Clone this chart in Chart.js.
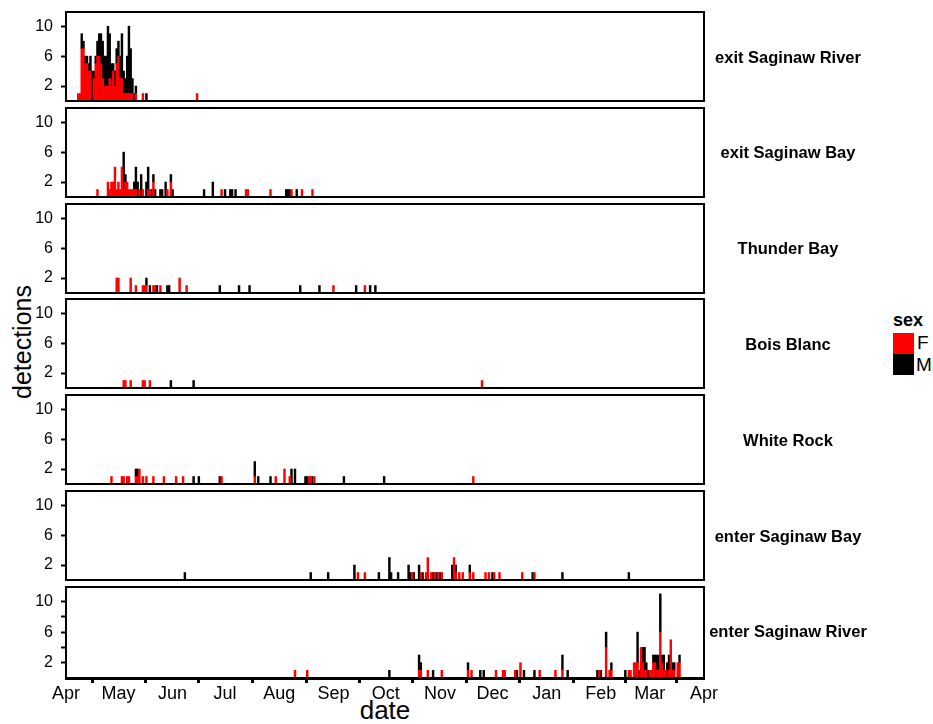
<!DOCTYPE html>
<html>
<head>
<meta charset="utf-8">
<script src="https://cdn.jsdelivr.net/npm/chart.js"></script>
<style>
  body { margin: 0; background: #fff; font-family: "Liberation Sans", Arial, sans-serif; }
  #wrap { position: relative; width: 933px; height: 724px; overflow: hidden; }
  #wrap canvas { position: absolute; left: 0; }
  .strip { position: absolute; left: 688px; width: 200px; text-align: center; font-weight: bold; font-size: 16.5px; line-height: 20px; color: #000; }
  .ytitle { position: absolute; left: 22px; top: 342px; font-size: 25px; transform: translate(-50%, -50%) rotate(-90deg); white-space: nowrap; }
  .xtitle { position: absolute; left: 385px; top: 710px; font-size: 26px; transform: translate(-50%, -50%); }
  .leg { position: absolute; font-size: 19px; }
</style>
</head>
<body>
<div id="wrap">
  <div class="ytitle">detections</div>
  <div class="xtitle">date</div>
  <div class="leg" style="left:893px;top:310px;font-weight:bold;font-size:18px">sex</div>
  <div style="position:absolute;left:893px;top:333px;width:21px;height:21px;background:#ff0000"></div>
  <div style="position:absolute;left:893px;top:354px;width:21px;height:21px;background:#000"></div>
  <div class="leg" style="left:917px;top:332px">F</div>
  <div class="leg" style="left:916px;top:354px">M</div>
</div>
<script>
// day 0 = 1 April
const monthDays = [0, 30, 61, 91, 122, 153, 183, 214, 244, 275, 306, 334, 365];
const monthLabels = ['Apr', 'May', 'Jun', 'Jul', 'Aug', 'Sep', 'Oct', 'Nov', 'Dec', 'Jan', 'Feb', 'Mar', 'Apr'];
const yTicks = [2, 4, 6, 8, 10];
const yLabels = [2, 6, 10];

const panelNames = ['exit Saginaw River', 'exit Saginaw Bay', 'Thunder Bay', 'Bois Blanc',
  'White Rock', 'enter Saginaw Bay', 'enter Saginaw River'];

// [day, detections]
const exitRiverF = [[7,1],[8,1],[9,7],[10,7],[11,5],[12,5],[13,4],[14,4],[16,3],[17,5],[18,6],[19,6],[20,5],
  [21,3],[22,2],[23,2],[24,2],[25,3],[26,2],[27,4],[28,2],[29,5],[30,6],[31,3],[32,3],[33,1],[34,1],[35,1],
  [36,1],[37,1],[38,1],[40,1],[44,1],[75,1]];
const exitRiverM = [[9,2],[10,1],[11,1],[12,1],[13,1],[14,2],[15,4],[16,1],[17,1],[18,2],[19,3],[20,4],[21,5],
  [22,4],[23,4],[24,8],[25,6],[26,3],[27,1],[28,2],[29,2],[30,2],[31,3],[32,6],[33,3],[34,2],[35,5],[36,9],
  [37,6],[38,2],[39,1],[40,1],[46,1]];

const exitBayF = [[18,1],[24,2],[25,1],[26,2],[27,2],[28,4],[29,1],[30,2],[31,1],[32,4],[33,1],[34,2],[35,2],
  [36,1],[37,1],[38,1],[39,1],[40,1],[42,1],[44,1],[47,1],[48,1],[50,2],[58,1],[60,2],[89,1],[103,1],[104,1],
  [117,1],[129,1],[135,1],[141,1]];
const exitBayM = [[33,5],[34,1],[39,1],[40,3],[41,2],[43,3],[46,2],[47,3],[49,1],[50,1],[51,1],[54,1],[55,1],
  [57,2],[60,1],[61,1],[79,1],[84,2],[91,1],[94,1],[95,1],[97,1],[126,1],[127,1],[128,1],[132,1]];

const thunderF = [[29,2],[30,2],[37,2],[40,1],[44,1],[45,1],[46,1],[50,1],[51,1],[54,1],[65,2],[69,1],[153,1],[171,1]];
const thunderM = [[46,1],[48,1],[52,1],[58,1],[59,1],[88,1],[99,1],[105,1],[134,1],[145,1],[166,1],[174,1],[177,1]];

const boisBlancF = [[33,1],[34,1],[37,1],[44,1],[45,1],[48,1],[238,1]];
const boisBlancM = [[60,1],[73,1]];

const whiteRockF = [[26,1],[32,1],[33,1],[35,1],[36,1],[40,1],[41,1],[42,2],[44,1],[46,1],[50,1],[56,1],[63,1],
  [67,1],[89,1],[108,1],[120,1],[125,2],[128,1],[139,1],[140,1],[142,1],[233,1]];
const whiteRockM = [[40,1],[41,1],[73,1],[76,1],[88,1],[108,2],[110,1],[117,1],[129,2],[131,2],[137,1],[138,1],
  [141,1],[159,1],[182,1]];

const enterBayF = [[167,1],[171,1],[198,1],[203,1],[206,1],[207,3],[209,1],[211,1],[213,1],[215,1],[222,3],
  [223,1],[225,1],[227,1],[231,1],[233,1],[240,1],[242,1],[245,1],[248,1],[261,1],[268,1]];
const enterBayM = [[68,1],[140,1],[150,1],[165,2],[179,1],[185,3],[186,1],[190,1],[196,2],[197,1],[199,1],
  [202,2],[204,1],[210,1],[212,1],[214,1],[221,2],[223,1],[231,1],[244,1],[267,1],[284,1],[322,1]];

const enterRiverF = [[131,1],[138,1],[202,1],[203,1],[207,1],[215,1],[230,1],[232,1],[246,1],[250,1],[251,1],
  [257,1],[260,2],[271,1],[280,1],[284,1],[305,1],[309,4],[311,1],[312,1],[322,1],[323,1],[325,2],[326,2],
  [327,2],[329,4],[330,2],[331,1],[332,1],[334,1],[335,1],[336,2],[337,2],[338,1],[339,1],[340,6],[341,2],
  [342,1],[343,1],[345,1],[346,5],[347,1],[348,1],[350,2],[351,2]];
const enterRiverM = [[185,1],[202,2],[203,1],[210,1],[230,1],[237,1],[239,1],[258,1],[262,1],[268,1],[284,2],
  [287,1],[304,1],[306,1],[309,2],[312,1],[320,1],[327,4],[328,1],[330,2],[331,3],[332,1],[333,1],[336,1],
  [337,1],[338,2],[339,2],[340,5],[341,1],[342,2],[344,2],[345,2],[347,1],[348,1],[351,1]];

const femaleSets = [exitRiverF, exitBayF, thunderF, boisBlancF, whiteRockF, enterBayF, enterRiverF];
const maleSets = [exitRiverM, exitBayM, thunderM, boisBlancM, whiteRockM, enterBayM, enterRiverM];

function toPoints(pairs) {
  return pairs.map(function(p) { return { x: p[0], y: p[1] }; });
}

// black box round each panel
const frame = {
  id: 'frame',
  afterDatasetsDraw: function(chart) {
    var a = chart.chartArea, c = chart.ctx;
    c.save();
    c.strokeStyle = '#000';
    c.lineWidth = 2;
    c.strokeRect(a.left, a.top, a.right - a.left, a.bottom - a.top);
    c.restore();
  }
};

document.addEventListener('DOMContentLoaded', function() {
  var wrap = document.querySelector('#wrap');
  var fontFam = '"Liberation Sans", Arial, sans-serif';

  for (var i = 0; i < 7; i++) {
    var last = (i === 6);
    var areaTop = 12 + i * 95.8;
    var canvas = document.createElement('canvas');
    canvas.width = 933;
    canvas.height = last ? 127 : 93;
    canvas.style.top = (areaTop - 2) + 'px';
    wrap.appendChild(canvas);

    var strip = document.createElement('div');
    strip.className = 'strip';
    strip.textContent = panelNames[i];
    strip.style.top = (areaTop + 44.5 - 10) + 'px';
    wrap.appendChild(strip);

    new Chart(canvas.getContext('2d'), {
      type: 'bar',
      data: {
        datasets: [{
          label: 'F',
          data: toPoints(femaleSets[i]),
          backgroundColor: '#FF0000',
          barThickness: 1.8
        }, {
          label: 'M',
          data: toPoints(maleSets[i]),
          backgroundColor: '#000000',
          barThickness: 1.8
        }]
      },
      options: {
        responsive: false,
        animation: false,
        layout: { padding: { top: 2, bottom: last ? 0 : 2, left: 0, right: 933 - 704 } },
        plugins: { legend: { display: false }, tooltip: { enabled: false } },
        scales: {
          x: {
            type: 'linear',
            stacked: true,
            offset: false,
            min: 0,
            max: 365,
            display: last,
            afterBuildTicks: function(s) { s.ticks = monthDays.map(function(v) { return { value: v }; }); },
            afterFit: function(s) { if (s.options.display) { s.height = 34; } },
            grid: { drawOnChartArea: false, tickLength: 5, tickWidth: 3, tickColor: '#000' },
            border: { display: true, color: '#000', width: 3 },
            ticks: {
              color: '#000',
              padding: 0,
              maxRotation: 0,
              autoSkip: false,
              font: { family: fontFam, size: 18 },
              callback: function(v, idx) { return monthLabels[idx]; }
            }
          },
          y: {
            stacked: true,
            min: 0,
            max: 11.9,
            afterBuildTicks: function(s) { s.ticks = yTicks.map(function(v) { return { value: v }; }); },
            afterFit: function(s) { s.width = 66; s.paddingTop = 0; s.paddingBottom = 0; },
            grid: { drawOnChartArea: false, tickLength: 5, tickWidth: 2, tickColor: '#000' },
            border: { display: false },
            ticks: {
              color: '#000',
              padding: 8,
              font: { family: fontFam, size: 16 },
              callback: function(v) { return yLabels.indexOf(v) >= 0 ? String(v) : ''; }
            }
          }
        }
      },
      plugins: [frame]
    });
  }
});
</script>
</body>
</html>
